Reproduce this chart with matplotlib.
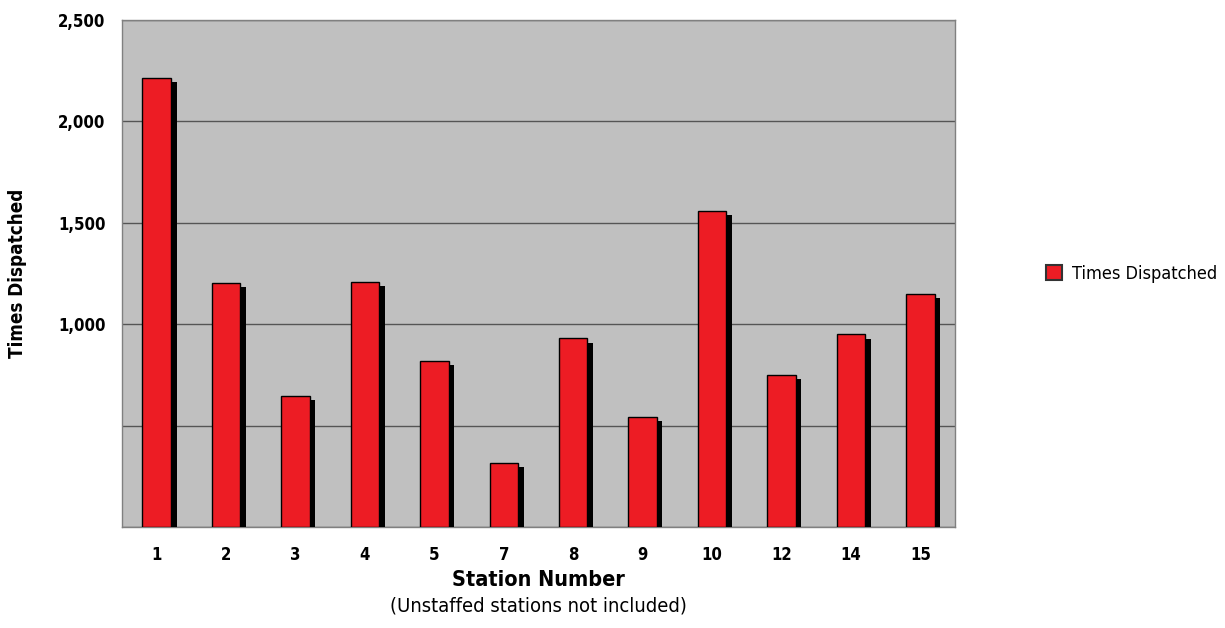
import matplotlib.pyplot as plt
import matplotlib.patheffects as pe
import numpy as np

# station numbers and dispatch counts
stations = ["1", "2", "3", "4", "5", "7", "8", "9", "10", "12", "14", "15"]
dispatched = [2215, 1205, 645, 1210, 820, 315, 930, 545, 1560, 750, 950, 1150]
ytick_vals = [0, 500, 1000, 1500, 2000, 2500]
ytick_text = ["", "", "1,000", "1,500", "2,000", "2,500"]

plt.rcParams['font.family'] = ['DejaVu Sans']
plt.rcParams['font.stretch'] = 'condensed'

fig = plt.figure(figsize=(12.25, 6.28), dpi=100)
ax = fig.add_axes([0.0996, 0.1608, 0.68, 0.8072])
ax.set_facecolor('#c0c0c0')

x = np.arange(len(stations))
shadow = [pe.SimplePatchShadow(offset=(4, -3), shadow_rgbFace='black', alpha=1.0), pe.Normal()]
ax.bar(x, dispatched, width=0.41, color='#ed1c24', edgecolor='black', linewidth=1,
       label='Times Dispatched', path_effects=shadow, zorder=3)

ax.set_xlim(-0.5, len(stations) - 0.5)
ax.set_ylim(0, 2500)
ax.set_yticks(ytick_vals)
ax.set_yticklabels(ytick_text, fontsize=12, fontweight='bold')
ax.set_xticks(x)
ax.set_xticklabels(stations, fontsize=12, fontweight='bold')
ax.tick_params(length=0, pad=14)
ax.tick_params(axis='y', pad=12)
ax.yaxis.grid(True, color='#555555', linewidth=1)
ax.set_axisbelow(True)
for s in ax.spines.values():
    s.set_color('#808080')
    s.set_linewidth(1)

ax.set_ylabel('Times Dispatched', fontsize=13.5, fontweight='bold', labelpad=22)
fig.text(0.4395, 0.0764, 'Station Number', ha='center', va='center', fontsize=15.5, fontweight='bold')
fig.text(0.4395, 0.035, '(Unstaffed stations not included)', ha='center', va='center', fontsize=14.5)

leg = ax.legend(loc='center left', bbox_to_anchor=(1.09, 0.5), frameon=False, fontsize=13,
                handlelength=0.9, handleheight=0.9, handletextpad=0.5)
leg.legend_handles[0].set_path_effects([])
leg.legend_handles[0].set_edgecolor('#333333')
leg.legend_handles[0].set_linewidth(1.5)

fig.savefig('out.png', dpi=100)
